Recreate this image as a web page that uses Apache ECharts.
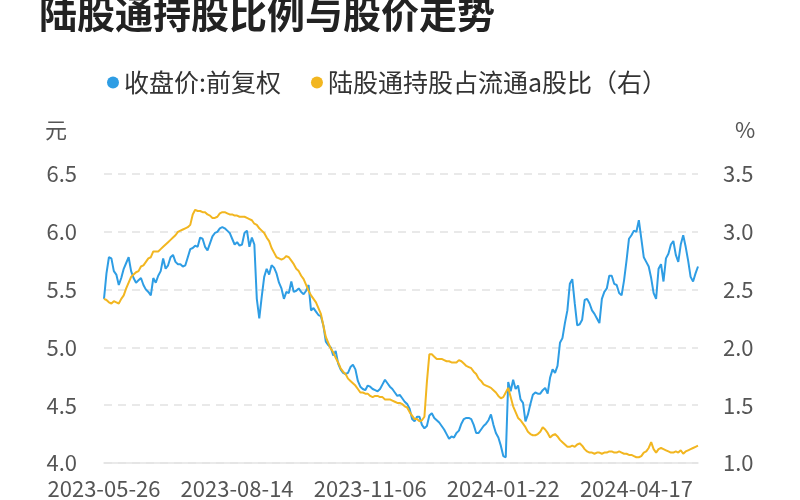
<!DOCTYPE html>
<html>
<head>
<meta charset="utf-8">
<script src="https://cdn.jsdelivr.net/npm/echarts@6/dist/echarts.min.js"></script>
<style>html,body{margin:0;padding:0;background:#fff;}#c{width:800px;height:500px;}</style>
</head>
<body>
<div id="c"></div>
<script>
const startDate = '2023-05-26';
const holidays = ['2023-06-22','2023-06-23','2023-09-29','2023-10-02','2023-10-03','2023-10-04','2023-10-05','2023-10-06','2024-01-01','2024-02-09','2024-02-12','2024-02-13','2024-02-14','2024-02-15','2024-02-16','2024-04-04','2024-04-05','2024-05-01','2024-05-02','2024-05-03'];
const seriesNames = ['收盘价:前复权', '陆股通持股占流通a股比（右）'];
const leftTicks = [4.0, 6.5, 0.5];
const rightTicks = [1.0, 3.5, 0.5];

const price = [
5.42,5.64,5.78,5.77,5.66,5.63,5.54,5.60,5.68,5.73,
5.78,5.66,5.60,5.56,5.58,5.60,5.54,5.50,5.48,5.45,
5.60,5.56,5.62,5.66,5.77,5.68,5.71,5.78,5.80,5.74,
5.72,5.72,5.70,5.71,5.78,5.85,5.86,5.88,5.87,5.95,
5.94,5.87,5.84,5.90,5.96,5.99,6.00,6.03,6.04,6.03,
6.01,5.99,5.94,5.89,5.91,5.88,5.89,5.99,6.01,5.87,
5.95,5.89,5.42,5.25,5.44,5.61,5.68,5.63,5.71,5.69,
5.64,5.56,5.51,5.42,5.48,5.47,5.57,5.48,5.49,5.51,
5.48,5.46,5.49,5.54,5.32,5.34,5.31,5.28,5.27,5.19,
5.05,5.02,5.00,4.93,4.97,4.86,4.81,4.78,4.77,4.78,
4.83,4.85,4.81,4.71,4.66,4.64,4.63,4.67,4.66,4.64,
4.63,4.62,4.64,4.68,4.72,4.69,4.66,4.64,4.61,4.58,
4.59,4.56,4.53,4.51,4.47,4.38,4.36,4.40,4.40,4.33,
4.30,4.32,4.41,4.43,4.39,4.37,4.35,4.32,4.29,4.25,
4.21,4.23,4.22,4.26,4.28,4.34,4.38,4.39,4.39,4.38,
4.33,4.26,4.26,4.29,4.32,4.34,4.37,4.42,4.33,4.26,
4.22,4.15,4.06,4.05,4.70,4.62,4.72,4.64,4.67,4.55,
4.52,4.36,4.42,4.51,4.59,4.61,4.60,4.60,4.63,4.65,
4.60,4.74,4.81,4.78,4.84,5.04,5.08,5.21,5.32,5.55,
5.59,5.38,5.19,5.20,5.24,5.41,5.42,5.38,5.32,5.29,
5.25,5.21,5.42,5.48,5.51,5.62,5.62,5.55,5.54,5.47,
5.45,5.58,5.75,5.94,5.97,6.01,6.00,6.10,5.94,5.78,
5.74,5.70,5.60,5.47,5.42,5.68,5.72,5.57,5.77,5.81,
5.89,5.92,5.80,5.74,5.89,5.97,5.87,5.75,5.61,5.57,
5.64,5.70
];

const holding = [
2.42,2.41,2.39,2.38,2.40,2.39,2.38,2.42,2.45,2.51,
2.56,2.61,2.63,2.65,2.66,2.70,2.71,2.74,2.77,2.78,
2.83,2.83,2.83,2.85,2.87,2.89,2.91,2.93,2.95,2.97,
3.00,3.01,3.02,3.03,3.04,3.06,3.15,3.19,3.18,3.18,
3.17,3.17,3.15,3.14,3.12,3.12,3.13,3.16,3.17,3.17,
3.16,3.15,3.15,3.14,3.14,3.13,3.13,3.13,3.12,3.11,
3.10,3.07,3.06,3.03,3.01,2.99,2.95,2.92,2.86,2.82,
2.78,2.77,2.76,2.77,2.79,2.78,2.75,2.72,2.68,2.66,
2.62,2.59,2.54,2.49,2.45,2.42,2.39,2.34,2.29,2.19,
2.09,2.04,1.99,1.96,1.91,1.87,1.82,1.79,1.77,1.73,
1.71,1.69,1.67,1.64,1.61,1.61,1.60,1.60,1.58,1.57,
1.58,1.58,1.57,1.57,1.55,1.55,1.55,1.54,1.53,1.52,
1.52,1.51,1.49,1.48,1.44,1.41,1.38,1.38,1.36,1.37,
1.40,1.70,1.94,1.94,1.92,1.90,1.90,1.90,1.89,1.88,
1.88,1.87,1.87,1.87,1.89,1.88,1.86,1.84,1.83,1.82,
1.79,1.77,1.73,1.71,1.68,1.67,1.66,1.65,1.63,1.61,
1.58,1.56,1.57,1.61,1.65,1.57,1.49,1.44,1.39,1.37,
1.34,1.31,1.27,1.25,1.24,1.24,1.25,1.27,1.31,1.29,
1.26,1.22,1.24,1.25,1.23,1.20,1.18,1.16,1.14,1.14,
1.15,1.14,1.16,1.17,1.15,1.12,1.10,1.09,1.09,1.08,
1.09,1.09,1.08,1.09,1.09,1.10,1.10,1.09,1.09,1.10,
1.09,1.08,1.08,1.07,1.07,1.06,1.05,1.05,1.06,1.09,
1.10,1.13,1.18,1.12,1.09,1.12,1.13,1.12,1.11,1.10,
1.09,1.09,1.10,1.09,1.11,1.08,1.10,1.11,1.12,1.13,
1.14,1.15
];

// trading-day categories: weekdays from startDate, skipping exchange holidays
function tradingDays(start, n, skip) {
  const out = [];
  const d = new Date(start + 'T00:00:00Z');
  while (out.length < n) {
    const s = d.toISOString().slice(0, 10);
    const wd = d.getUTCDay();
    if (wd !== 0 && wd !== 6 && skip.indexOf(s) < 0) out.push(s);
    d.setUTCDate(d.getUTCDate() + 1);
  }
  return out;
}
const dates = tradingDays(startDate, price.length, holidays);

const FONT = '"Noto Sans CJK SC", "Noto Sans", sans-serif';
const BLUE = '#2e9de4';
const YELLOW = '#f2b620';

const chart = echarts.init(document.getElementById('c'), null, {renderer: 'canvas'});
chart.setOption({
  animation: false,
  backgroundColor: '#fff',
  textStyle: {fontFamily: FONT},
  title: {
    text: '陆股通持股比例与股价走势',
    left: 34, top: -10,
    textStyle: {fontSize: 38, fontWeight: 'bold', color: '#222', fontFamily: FONT}
  },
  legend: {
    left: 102, top: 65,
    icon: 'circle', itemWidth: 12, itemHeight: 12, itemGap: 30,
    textStyle: {fontSize: 25, color: '#333', fontFamily: FONT},
    data: seriesNames
  },
  grid: {left: 104, right: 102, top: 174, bottom: 33, containLabel: false},
  xAxis: {
    type: 'category',
    boundaryGap: false,
    data: dates,
    axisTick: {show: false},
    axisLine: {lineStyle: {color: '#e3e3e3', width: 1.5}},
    axisLabel: {interval: 53, fontSize: 22, color: '#555', margin: 15, fontFamily: FONT},
    splitLine: {show: false}
  },
  yAxis: [
    {
      type: 'value', min: leftTicks[0], max: leftTicks[1], interval: leftTicks[2],
      name: '元', nameLocation: 'end', nameGap: 44,
      nameTextStyle: {fontSize: 22, color: '#555', align: 'right', verticalAlign: 'middle', padding: [0, 37, 0, 0], fontFamily: FONT},
      axisLine: {show: false}, axisTick: {show: false},
      axisLabel: {fontSize: 22, color: '#555', margin: 27, formatter: v => v.toFixed(1), fontFamily: FONT},
      splitLine: {lineStyle: {color: '#e2e2e2', type: [8, 6], width: 1.5}}
    },
    {
      type: 'value', min: rightTicks[0], max: rightTicks[1], interval: rightTicks[2],
      name: '%', nameLocation: 'end', nameGap: 44,
      nameTextStyle: {fontSize: 22, color: '#555', align: 'left', verticalAlign: 'middle', padding: [0, 0, 0, 37], fontFamily: FONT},
      axisLine: {show: false}, axisTick: {show: false},
      axisLabel: {fontSize: 22, color: '#555', margin: 25, formatter: v => v.toFixed(1), fontFamily: FONT},
      splitLine: {show: false}
    }
  ],
  series: [
    {
      name: seriesNames[0], type: 'line', data: price, yAxisIndex: 0,
      showSymbol: false, symbol: 'circle',
      itemStyle: {color: BLUE},
      lineStyle: {color: BLUE, width: 2}
    },
    {
      name: seriesNames[1], type: 'line', data: holding, yAxisIndex: 1,
      showSymbol: false, symbol: 'circle',
      itemStyle: {color: YELLOW},
      lineStyle: {color: YELLOW, width: 2}
    }
  ]
});
</script>
</body>
</html>
